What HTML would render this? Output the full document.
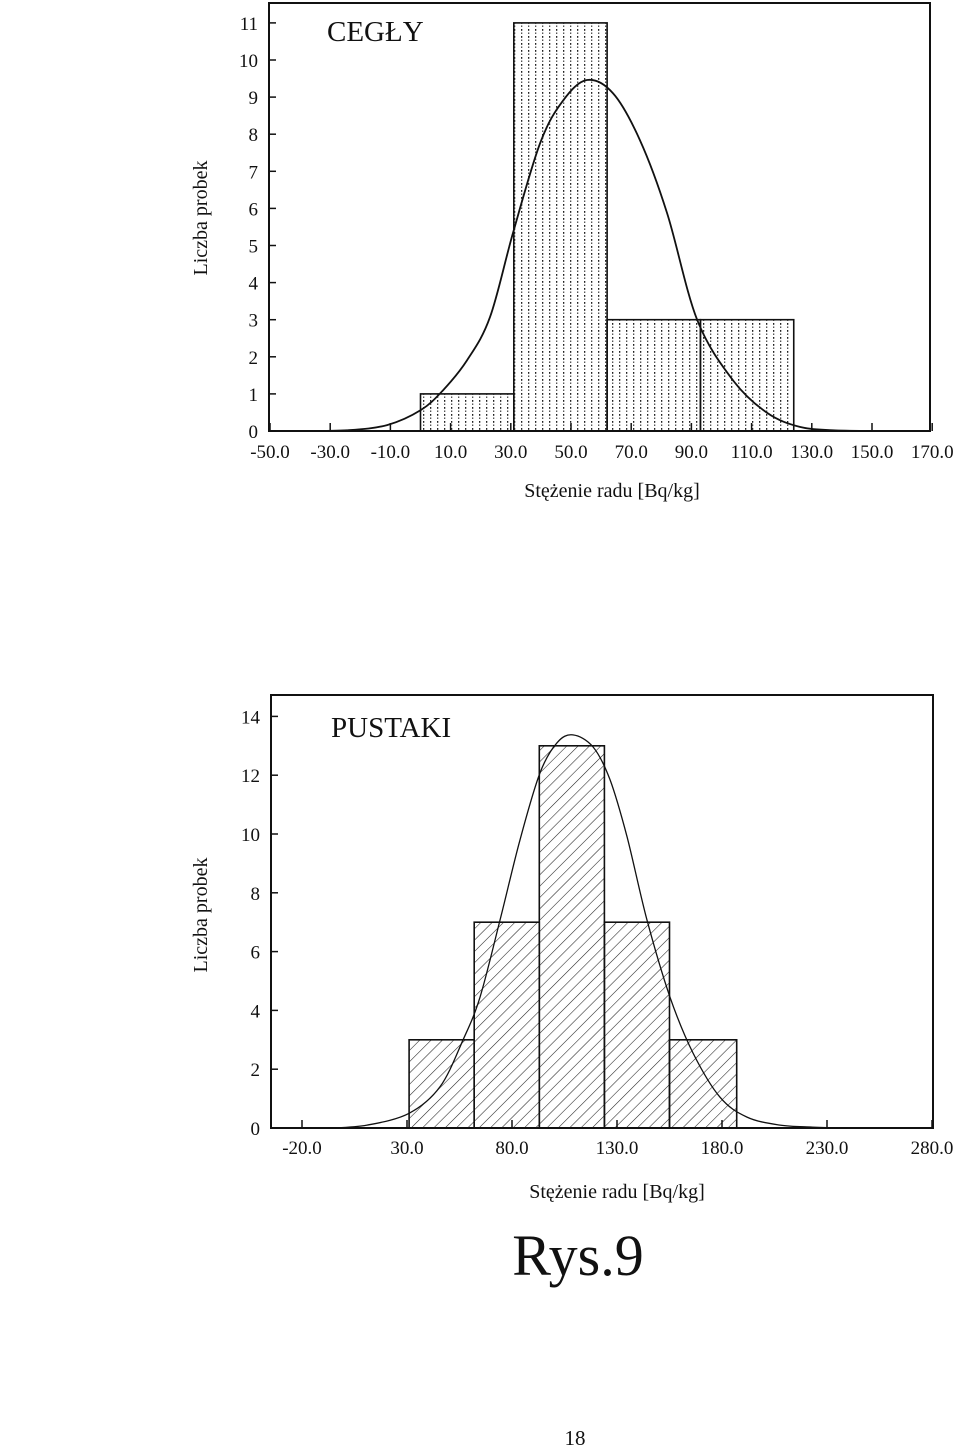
<!DOCTYPE html>
<html><head><meta charset="utf-8">
<style>
html,body{margin:0;padding:0;background:#fff;}
body{width:960px;height:1449px;position:relative;overflow:hidden;font-family:"Liberation Serif",serif;}
svg{position:absolute;left:0;top:0;}
text{font-family:"Liberation Serif",serif;fill:#111;}
</style></head>
<body>
<svg id="chart" width="960" height="1449" viewBox="0 0 960 1449">
<defs>
<pattern id="dots" width="7" height="7" patternUnits="userSpaceOnUse">
<rect x="3" y="1" width="1.3" height="1.8" fill="#222"/>
<rect x="3" y="4.5" width="1.3" height="1.4" fill="#444"/>
</pattern>
<pattern id="hatch" width="8" height="8" patternUnits="userSpaceOnUse" patternTransform="rotate(45)">
<line x1="0" y1="0" x2="0" y2="8" stroke="#222" stroke-width="1.1"/>
</pattern>
</defs>
<g id="top"></g>
<g id="bot"></g>
<text x="578" y="1275" font-size="58" text-anchor="middle">Rys.9</text>
<text x="575" y="1445" font-size="21" text-anchor="middle">18</text>
</svg>
<script>
// ---- CEGŁY data ----
const topBinEdges = [0, 31, 62, 93, 124];
const topCounts = [1, 11, 3, 3];
const topXTicks = [-50, -30, -10, 10, 30, 50, 70, 90, 110, 130, 150, 170];
const topYTicks = [0,1,2,3,4,5,6,7,8,9,10,11];
const topCurveX = [-40, -24.4, -11.1, 0.2, 7.5, 15.4, 23.1, 30.7, 39.7, 47.3, 55.3, 64, 72.9, 81.9, 91.9, 103.8, 115.1, 126, 137, 150];
const topCurveY = [0, 0.02, 0.16, 0.57, 1.1, 1.9, 3.07, 5.33, 7.75, 8.9, 9.46, 9.1, 7.84, 5.88, 3.0, 1.37, 0.49, 0.11, 0.02, 0];
// ---- PUSTAKI data ----
const botBinEdges = [31, 62, 93, 124, 155, 187];
const botCounts = [3, 7, 13, 7, 3];
const botXTicks = [-20, 30, 80, 130, 180, 230, 280];
const botYTicks = [0, 2, 4, 6, 8, 10, 12, 14];
const botCurveX = [-20, -6.7, 11, 31, 45.7, 56.7, 64.8, 74.3, 83.8, 93.3, 101.4, 109, 118.6, 126.7, 134.8, 144.3, 155.2, 166.2, 179, 191.9, 207.6, 223, 240];
const botCurveY = [0, 0, 0.1, 0.5, 1.4, 3.0, 4.46, 7.07, 9.8, 12.07, 13.1, 13.37, 12.96, 11.84, 9.9, 7.07, 4.46, 2.55, 1.05, 0.37, 0.1, 0.03, 0];

const NS = 'http://www.w3.org/2000/svg';
function mk(parent, tag, attrs){const e=document.createElementNS(NS,tag);for(const k in attrs)e.setAttribute(k,attrs[k]);parent.appendChild(e);return e;}

function smoothPath(pts){
  let d='M'+pts[0][0].toFixed(1)+','+pts[0][1].toFixed(1);
  for(let i=0;i<pts.length-1;i++){
    const p0=pts[i-1]||pts[i], p1=pts[i], p2=pts[i+1], p3=pts[i+2]||p2;
    const c1=[p1[0]+(p2[0]-p0[0])/6, p1[1]+(p2[1]-p0[1])/6];
    const c2=[p2[0]-(p3[0]-p1[0])/6, p2[1]-(p3[1]-p1[1])/6];
    d+='C'+c1[0].toFixed(1)+','+c1[1].toFixed(1)+' '+c2[0].toFixed(1)+','+c2[1].toFixed(1)+' '+p2[0].toFixed(1)+','+p2[1].toFixed(1);
  }
  return d;
}

function drawChart(g, cfg){
  const sx = v => cfg.x0px + (v - cfg.x0v) * cfg.kx;
  const sy = v => cfg.y0px - v * cfg.ky;
  const frame = mk(g,'rect',{x:cfg.L,y:cfg.T,width:cfg.R-cfg.L,height:cfg.B-cfg.T,fill:'none',stroke:'#111','stroke-width':2});
  
  
  cfg.counts.forEach((c,i)=>{
    const x1=sx(cfg.edges[i]), x2=sx(cfg.edges[i+1]);
    const r=mk(g,'rect',{x:x1,y:sy(c),width:x2-x1,height:sy(0)-sy(c),fill:cfg.fill,stroke:'#111','stroke-width':1.6});
    
    
  });
  const pts=cfg.cx.map((v,i)=>[sx(v),sy(cfg.cy[i])]);
  const p=mk(g,'path',{d:smoothPath(pts),fill:'none',stroke:'#111','stroke-width':cfg.cw,'stroke-linejoin':'round'});
  
  
  cfg.yt.forEach(v=>{
    const y=sy(v);
    const t=mk(g,'line',{x1:cfg.L,x2:cfg.L+7,y1:y,y2:y,stroke:'#111','stroke-width':1.5});
    
    
    const tx=mk(g,'text',{x:cfg.L-11,y:y+7,'font-size':cfg.fs,'text-anchor':'end'});
    tx.textContent=String(v);
    
    
  });
  cfg.xt.forEach(v=>{
    const x=sx(v);
    const t=mk(g,'line',{x1:x,x2:x,y1:cfg.B,y2:cfg.B-8,stroke:'#111','stroke-width':1.5});
    
    
    const tx=mk(g,'text',{x:x,y:cfg.B+cfg.lblDy,'font-size':cfg.fs,'text-anchor':'middle'});
    tx.textContent=v.toFixed(1);
    
    
  });
  const ti=mk(g,'text',{x:cfg.titleX,y:cfg.titleY,'font-size':29});
  ti.textContent=cfg.title;
  
  
  const xa=mk(g,'text',{x:cfg.xaX,y:cfg.xaY,'font-size':20,'text-anchor':'middle'});
  xa.textContent='Stężenie radu [Bq/kg]';
  
  
  const ya=mk(g,'text',{x:0,y:0,'font-size':20,'text-anchor':'middle',transform:'translate(207,'+cfg.yaY+') rotate(-90)'});
  ya.textContent='Liczba probek';
  
  
}

drawChart(document.getElementById('top'),{
  L:269,R:930,T:3,B:431,x0px:270,x0v:-50,kx:3.01,y0px:431,ky:37.1,
  edges:topBinEdges,counts:topCounts,xt:topXTicks,yt:topYTicks,cx:topCurveX,cy:topCurveY,
  fill:'url(#dots)',cw:1.8,fs:19,lblDy:27,title:'CEGŁY',titleX:327,titleY:41,xaX:612,xaY:497,yaY:218
});
drawChart(document.getElementById('bot'),{
  L:271,R:933,T:695,B:1128,x0px:407,x0v:30,kx:2.1,y0px:1128,ky:29.4,
  edges:botBinEdges,counts:botCounts,xt:botXTicks,yt:botYTicks,cx:botCurveX,cy:botCurveY,
  fill:'url(#hatch)',cw:1.3,fs:19,lblDy:26,title:'PUSTAKI',titleX:331,titleY:737,xaX:617,xaY:1198,yaY:915
});
</script>
</body></html>
